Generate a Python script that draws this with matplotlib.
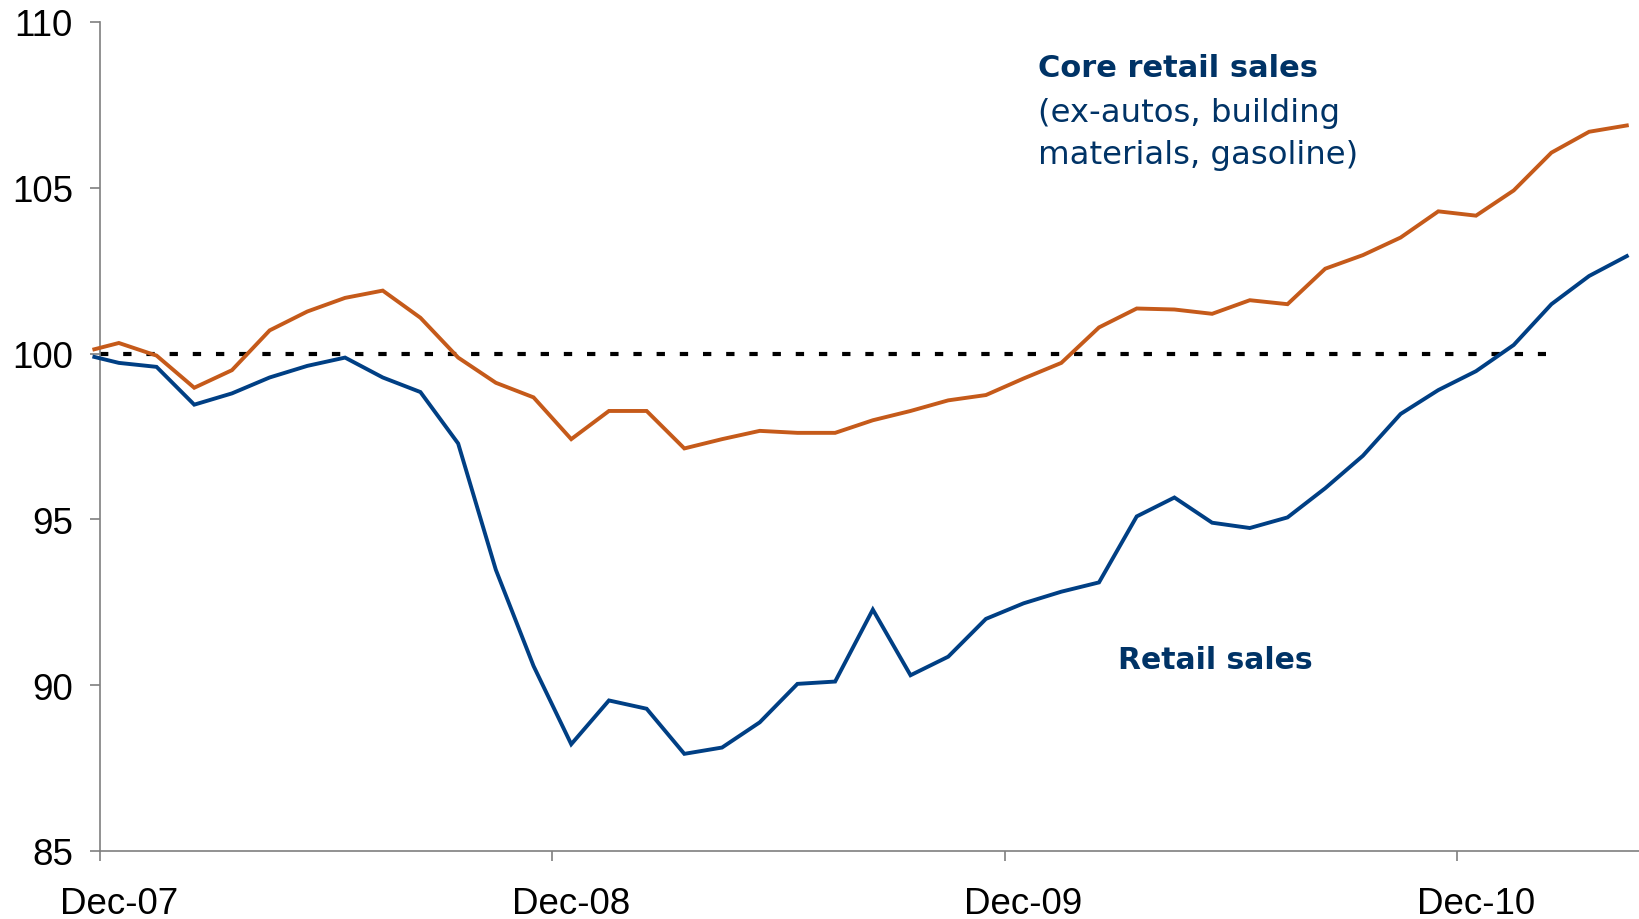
import matplotlib
matplotlib.use("Agg")
import matplotlib.pyplot as plt

# Month offsets from Dec-07 (category centres); first value is the index start point
months = [-0.65] + list(range(0, 41))

retail_sales = [99.9, 99.72, 99.6, 98.46, 98.8, 99.28, 99.63, 99.88, 99.28, 98.84,
                97.29, 93.48, 90.58, 88.22, 89.54, 89.29, 87.93, 88.12, 88.88, 90.04,
                90.11, 92.28, 90.3, 90.86, 92.0, 92.47, 92.82, 93.1, 95.09, 95.66,
                94.9, 94.74, 95.06, 95.94, 96.92, 98.18, 98.9, 99.47, 100.26, 101.49,
                102.34, 102.94]

core_retail_sales = [100.13, 100.32, 99.94, 98.97, 99.5, 100.7, 101.27, 101.68, 101.9, 101.08,
                     99.88, 99.12, 98.68, 97.42, 98.27, 98.27, 97.14, 97.42, 97.67, 97.61,
                     97.61, 97.99, 98.27, 98.59, 98.75, 99.25, 99.72, 100.79, 101.36, 101.33,
                     101.2, 101.61, 101.49, 102.56, 102.97, 103.5, 104.29, 104.16, 104.92, 106.06,
                     106.69, 106.88]

baseline_x = [-0.5, 37.86]
baseline_y = [100, 100]

tick_positions = [-0.5, 11.5, 23.5, 35.5]
label_positions = [0, 12, 24, 36]
tick_labels = ["Dec-07", "Dec-08", "Dec-09", "Dec-10"]
y_ticks = [85, 90, 95, 100, 105, 110]

BLUE = "#003F84"
ORANGE = "#C55A1A"
NAVY = "#003366"

fig = plt.figure(figsize=(16.4, 9.2), dpi=100)
ax = fig.add_axes([100 / 1640, 68 / 920, 1540 / 1640, 829 / 920])

ax.plot(baseline_x, baseline_y, color="black", lw=3, dashes=(2.0, 3.566), zorder=2)
ax.plot(months, core_retail_sales, color=ORANGE, lw=2.8, zorder=3, clip_on=False,
        solid_joinstyle="miter")
ax.plot(months, retail_sales, color=BLUE, lw=2.8, zorder=4, clip_on=False,
        solid_joinstyle="miter")

ax.set_xlim(-0.5, 40.35)
ax.set_ylim(85, 110)

ax.spines["top"].set_visible(False)
ax.spines["right"].set_visible(False)
for s in ("left", "bottom"):
    ax.spines[s].set_color("#7f7f7f")
    ax.spines[s].set_linewidth(1.2)

ax.set_yticks(y_ticks)
ax.set_yticklabels([str(v) for v in y_ticks])
ax.set_xticks(tick_positions)
ax.set_xticklabels([])
ax.set_xticks(label_positions, minor=True)
ax.set_xticklabels(tick_labels, minor=True)

ax.tick_params(axis="both", which="major", direction="out", length=7.5, width=1.2,
               color="#7f7f7f", labelsize=26.5)
ax.tick_params(axis="x", which="minor", length=0, labelsize=26.5, pad=25)
ax.tick_params(axis="y", pad=12)
for lab in ax.get_xticklabels(minor=True) + ax.get_yticklabels():
    lab.set_fontfamily("Liberation Sans")

ax.text(1038 / 1640, (920 - 77) / 920, "Core retail sales", transform=fig.transFigure,
        fontsize=22, fontweight="bold", color=NAVY, family="DejaVu Sans", va="baseline")
ax.text(1038 / 1640, (920 - 122) / 920, "(ex-autos, building", transform=fig.transFigure,
        fontsize=23.3, color=NAVY, family="DejaVu Sans", va="baseline")
ax.text(1038 / 1640, (920 - 164) / 920, "materials, gasoline)", transform=fig.transFigure,
        fontsize=23.3, color=NAVY, family="DejaVu Sans", va="baseline")
ax.text(1118 / 1640, (920 - 669) / 920, "Retail sales", transform=fig.transFigure,
        fontsize=21.5, fontweight="bold", color=NAVY, family="DejaVu Sans", va="baseline")

fig.savefig("out.png", dpi=100)
